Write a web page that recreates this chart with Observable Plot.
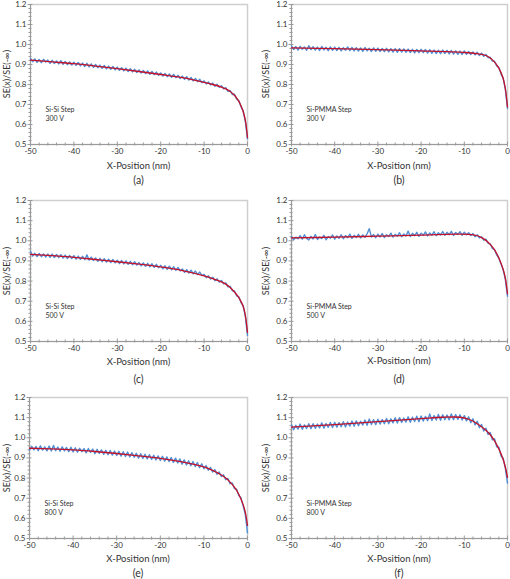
<!DOCTYPE html>
<html><head><meta charset="utf-8">
<script src="https://cdn.jsdelivr.net/npm/d3@7"></script>
<script src="https://cdn.jsdelivr.net/npm/@observablehq/plot@0.6"></script>
<style>
body{margin:0;background:#fff;}
#wrap{position:relative;width:510px;height:579px;overflow:hidden;font-family:Lato,"Open Sans",sans-serif;color:#333;background:#fff;}
.p{position:absolute;}
.lab{position:absolute;white-space:nowrap;transform:translate(-50%,-50%);line-height:1;}
.ytitle{position:absolute;white-space:nowrap;transform:translate(-50%,-50%) rotate(-90deg);font-size:9px;line-height:1;}
</style></head><body><div id="wrap"></div>
<script>
// ---- data ----
const captions = ["(a)","(b)","(c)","(d)","(e)","(f)"];
const notes = ["Si-Si Step\n300 V","Si-PMMA Step\n300 V","Si-Si Step\n500 V","Si-PMMA Step\n500 V","Si-Si Step\n800 V","Si-PMMA Step\n800 V"];
const xTitle = "X-Position (nm)";
const yTitle = "SE(x)/SE(-∞)";
const xMajor = [-50,-40,-30,-20,-10,0];
const xMinor = [-48,-46,-44,-42,-38,-36,-34,-32,-28,-26,-24,-22,-18,-16,-14,-12,-8,-6,-4,-2];
const yMajor = [0.5,0.6,0.7,0.8,0.9,1.0,1.1,1.2];
const yMinor = [0.52,0.54,0.56,0.58,0.62,0.64,0.66,0.68,0.72,0.74,0.76,0.78,0.82,0.84,0.86,0.88,0.92,0.94,0.96,0.98,1.02,1.04,1.06,1.08,1.12,1.14,1.16,1.18];

// measured (blue) series, sampled every 0.5 nm from -50 to 0
const xGrid = d3.range(0, 101).map(i => -50 + i * 0.5);
const blueA = [
 .930,.914,.928,.911,.925,.909,.926,.912,.922,.906,
 .921,.905,.918,.903,.919,.901,.915,.899,.913,.897,
 .912,.896,.910,.893,.907,.890,.906,.888,.903,.886,
 .900,.884,.897,.881,.895,.878,.892,.876,.890,.873,
 .887,.871,.884,.868,.882,.865,.879,.863,.876,.860,
 .873,.857,.870,.854,.868,.851,.865,.849,.862,.846,
 .858,.842,.855,.839,.853,.836,.850,.834,.846,.830,
 .842,.826,.839,.822,.835,.818,.830,.814,.826,.809,
 .818,.803,.813,.798,.807,.791,.801,.786,.794,.778,
 .784,.766,.770,.750,.751,.727,.720,.689,.668,.615,
 .528];
const blueB = [
 .993,.975,.990,.972,.991,.976,.988,.971,.994,.974,
 .989,.972,.987,.970,.990,.973,.986,.969,.988,.971,
 .987,.970,.986,.968,.984,.971,.988,.969,.985,.968,
 .984,.967,.983,.966,.985,.968,.981,.965,.983,.966,
 .982,.965,.980,.964,.981,.963,.979,.962,.980,.961,
 .979,.962,.978,.961,.977,.960,.976,.958,.975,.959,
 .976,.959,.975,.957,.974,.956,.972,.955,.971,.954,
 .972,.955,.971,.953,.970,.952,.968,.951,.967,.950,
 .968,.951,.965,.950,.963,.948,.961,.945,.957,.941,
 .950,.934,.936,.917,.916,.893,.885,.853,.832,.776,
 .680];
const blueC = [
 .948,.924,.938,.922,.937,.921,.935,.919,.934,.918,
 .934,.917,.932,.916,.931,.914,.929,.912,.927,.911,
 .926,.909,.924,.908,.923,.906,.930,.904,.919,.902,
 .915,.898,.913,.896,.911,.894,.909,.892,.907,.890,
 .904,.887,.902,.885,.900,.883,.898,.881,.896,.879,
 .892,.875,.890,.873,.888,.871,.886,.868,.883,.866,
 .878,.861,.876,.858,.874,.856,.871,.853,.868,.850,
 .860,.843,.857,.840,.854,.836,.850,.832,.845,.827,
 .833,.817,.826,.810,.819,.802,.811,.795,.803,.786,
 .791,.771,.774,.752,.751,.727,.722,.693,.678,.625,
 .530];
const blueD = [
 1.020,1.005,1.018,1.010,1.026,1.008,1.030,1.012,1.004,1.022,
 1.009,1.031,1.006,1.019,1.011,1.027,1.005,1.021,1.013,1.029,
 1.008,1.024,1.012,1.030,1.010,1.026,1.015,1.033,1.012,1.027,
 1.016,1.032,1.014,1.029,1.017,1.035,1.060,1.018,1.031,1.015,
 1.033,1.019,1.036,1.016,1.030,1.021,1.038,1.018,1.032,1.022,
 1.040,1.020,1.034,1.024,1.048,1.021,1.037,1.025,1.042,1.022,
 1.038,1.027,1.044,1.024,1.039,1.028,1.045,1.025,1.040,1.029,
 1.046,1.027,1.042,1.030,1.047,1.026,1.041,1.031,1.045,1.027,
 1.043,1.030,1.040,1.026,1.036,1.020,1.030,1.014,1.020,1.003,
 1.008,.988,.985,.962,.956,.930,.914,.885,.856,.808,
 .725];
const blueE = [
 .938,.958,.940,.957,.936,.960,.939,.955,.935,.959,
 .934,.962,.936,.954,.933,.955,.935,.952,.931,.953,
 .930,.950,.928,.948,.931,.946,.925,.947,.927,.944,
 .921,.943,.922,.940,.918,.938,.916,.937,.914,.934,
 .912,.933,.909,.931,.907,.929,.905,.926,.903,.923,
 .899,.921,.897,.918,.895,.916,.893,.913,.890,.910,
 .887,.908,.884,.905,.882,.902,.878,.899,.875,.895,
 .869,.890,.865,.886,.861,.882,.857,.877,.852,.871,
 .846,.862,.839,.853,.830,.842,.819,.830,.808,.816,
 .792,.798,.772,.776,.748,.745,.713,.702,.662,.620,
 .528];
const blueF = [
 1.065,1.040,1.062,1.043,1.068,1.042,1.064,1.046,1.070,1.045,
 1.070,1.047,1.068,1.049,1.074,1.048,1.071,1.052,1.076,1.051,
 1.077,1.053,1.075,1.055,1.080,1.054,1.078,1.058,1.083,1.057,
 1.084,1.060,1.082,1.063,1.088,1.062,1.093,1.066,1.090,1.065,
 1.092,1.068,1.090,1.070,1.096,1.070,1.094,1.074,1.099,1.073,
 1.100,1.076,1.098,1.078,1.104,1.077,1.102,1.081,1.107,1.080,
 1.108,1.083,1.106,1.085,1.118,1.086,1.110,1.088,1.116,1.087,
 1.114,1.090,1.113,1.089,1.118,1.090,1.115,1.091,1.114,1.088,
 1.110,1.084,1.104,1.075,1.094,1.064,1.082,1.050,1.066,1.034,
 1.048,1.016,1.026,.990,.995,.955,.953,.910,.898,.848,
 .775];

// fitted (red) curves
const redAx = [-50,-45,-40,-35,-30,-25,-20,-15,-10,-8,-6,-5,-4,-3,-2,-1.5,-1,-0.5,0];
const redAy = [.922,.913,.904,.892,.879,.865,.850,.834,.811,.800,.787,.778,.765,.746,.716,.694,.665,.622,.535];
const redBx = [-50,-40,-30,-20,-10,-7,-5,-4,-3,-2,-1,-0.5,0];
const redBy = [.983,.979,.974,.968,.960,.954,.945,.932,.912,.882,.830,.780,.688];
const redCx = [-50,-45,-40,-35,-30,-25,-20,-15,-10,-8,-6,-5,-4,-3,-2,-1,-0.5,0];
const redCy = [.933,.926,.918,.907,.896,.884,.870,.852,.826,.812,.796,.785,.768,.746,.718,.675,.630,.545];
const redDx = [-50,-40,-30,-20,-12,-9,-7,-6,-5,-4,-3,-2,-1,-0.5,0];
const redDy = [1.014,1.018,1.023,1.028,1.033,1.032,1.025,1.016,1.002,.982,.955,.915,.858,.815,.737];
const redEx = [-50,-45,-40,-35,-30,-25,-20,-15,-10,-8,-6,-5,-4,-3,-2,-1,-0.5,0];
const redEy = [.948,.945,.940,.932,.922,.910,.898,.880,.855,.838,.815,.800,.780,.755,.720,.668,.630,.565];
const redFx = [-50,-40,-30,-20,-15,-11,-9,-7,-5,-4,-3,-2,-1,-0.5,0];
const redFy = [1.053,1.065,1.080,1.095,1.102,1.102,1.092,1.070,1.037,1.015,.985,.945,.892,.855,.803];

const blues = [blueA, blueB, blueC, blueD, blueE, blueF];
const redXs = [redAx, redBx, redCx, redDx, redEx, redFx];
const redYs = [redAy, redBy, redCy, redDy, redEy, redFy];

// ---- layout ----
const layout = [
 {left:0,   top:0,   pl:30,  pr:247, pt:4,   pb:144, yt:6,   xt:166, cap:180},
 {left:255, top:0,   pl:291, pr:507, pt:4,   pb:144, yt:265, xt:166, cap:180},
 {left:0,   top:195, pl:30,  pr:247, pt:200, pb:341, yt:6,   xt:362, cap:379},
 {left:255, top:195, pl:291, pr:507, pt:200, pb:341, yt:265, xt:361, cap:379},
 {left:0,   top:385, pl:29,  pr:247, pt:397, pb:538, yt:6,   xt:559, cap:573},
 {left:255, top:385, pl:291, pr:507, pt:397, pb:538, yt:265, xt:559, cap:573}
];
const BLUE = "#4f8fd4", RED = "#c4122a", AXIS = "#9a9a9a", INK = "#333";
const wrap = document.getElementById("wrap");

layout.forEach((L, k) => {
  const W = 255, mb = 16;
  const H = L.pb - L.top + mb;
  const blueData = xGrid.map((x, i) => ({x, y: blues[k][i]}));
  const redData = redXs[k].map((x, i) => ({x, y: redYs[k][i]}));
  const chart = Plot.plot({
    width: W, height: H,
    marginLeft: L.pl - L.left, marginRight: L.left + W - L.pr,
    marginTop: L.pt - L.top, marginBottom: mb,
    x: {domain: [-50, 0], label: null},
    y: {domain: [0.5, 1.2], label: null},
    style: {fontFamily: "Lato, 'Open Sans', sans-serif", fontSize: "8px", color: INK, background: "transparent", overflow: "visible"},
    marks: [
      Plot.frame({stroke: "#cfcfcf", strokeWidth: 1.5}),
      Plot.ruleX([-50], {stroke: AXIS}),
      Plot.ruleY([0.5], {stroke: AXIS}),
      Plot.axisY({ticks: yMajor, tickSize: 0, tickPadding: 4, tickFormat: d => d.toFixed(1), label: null, fill: INK, fontSize: 8}),
      Plot.axisY({ticks: yMajor, tickSize: 5, dx: 2.5, fill: "none", label: null, stroke: AXIS}),
      Plot.axisY({ticks: yMinor, tickSize: 3, dx: 1.5, fill: "none", label: null, stroke: AXIS}),
      Plot.axisX({ticks: xMajor, tickSize: 0, tickPadding: 4, tickFormat: d => String(d), label: null, fill: INK, fontSize: 8}),
      Plot.axisX({ticks: xMajor, tickSize: 5, dy: -2.5, fill: "none", label: null, stroke: AXIS}),
      Plot.axisX({ticks: xMinor, tickSize: 3, dy: -1.5, fill: "none", label: null, stroke: AXIS}),
      Plot.line(blueData, {x: "x", y: "y", stroke: BLUE, strokeWidth: 1.4}),
      Plot.line(redData, {x: "x", y: "y", stroke: RED, strokeWidth: 1.3, curve: "catmull-rom"}),
      Plot.text([notes[k]], {text: d => d, frameAnchor: "bottom-left", dx: 15, dy: -31, textAnchor: "start", lineAnchor: "middle", lineHeight: 1.35, fontSize: 7, fill: INK})
    ]
  });
  chart.classList.add("p");
  chart.style.left = L.left + "px";
  chart.style.top = L.top + "px";
  wrap.appendChild(chart);

  const cx = (L.pl + L.pr) / 2;
  const xl = document.createElement("div");
  xl.className = "lab"; xl.textContent = xTitle;
  xl.style.left = cx + "px"; xl.style.top = L.xt + "px"; xl.style.fontSize = "9.5px";
  wrap.appendChild(xl);

  const cp = document.createElement("div");
  cp.className = "lab"; cp.textContent = captions[k];
  cp.style.left = cx + "px"; cp.style.top = L.cap + "px"; cp.style.fontSize = "10.5px";
  wrap.appendChild(cp);

  const yl = document.createElement("div");
  yl.className = "ytitle"; yl.textContent = yTitle;
  yl.style.left = L.yt + "px"; yl.style.top = ((L.pt + L.pb) / 2) + "px";
  wrap.appendChild(yl);
});
</script></body></html>
